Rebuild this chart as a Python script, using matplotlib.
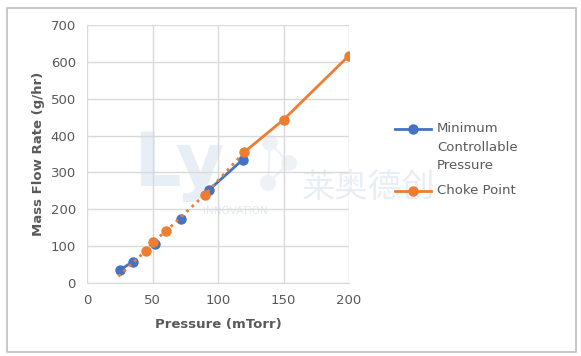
import matplotlib
matplotlib.use("Agg")
from matplotlib import pyplot as plt
from matplotlib.patches import Rectangle, Ellipse
from matplotlib.lines import Line2D

# data
min_ctrl_x = [25, 35, 52, 72, 93, 119]
min_ctrl_y = [35, 58, 107, 175, 252, 335]
# segments of the blue series that are drawn with a line
min_ctrl_line_x = [25, 35, None, 93, 119]
min_ctrl_line_y = [35, 58, None, 252, 335]

choke_x = [45, 50, 60, 90, 120, 150, 200]
choke_y = [88, 110, 140, 240, 355, 443, 617]
choke_solid_x = [120, 150, 200]
choke_solid_y = [355, 443, 617]
trend_x = [24, 45, 50, 60, 90, 120]
trend_y = [18, 88, 110, 140, 240, 355]

x_ticks = [0, 50, 100, 150, 200]
y_ticks = [0, 100, 200, 300, 400, 500, 600, 700]
legend_labels = ["Minimum\nControllable\nPressure", "Choke Point"]

blue = "#4472C4"
orange = "#ED7D31"
grey_text = "#595959"

plt.rcParams["font.family"] = ["DejaVu Sans", "Noto Sans CJK SC"]

W, H = 581, 356
fig = plt.figure(figsize=(W / 100, H / 100), dpi=100)
fig.set_facecolor("w")
ax = fig.add_axes([87 / W, 1 - 283 / H, (349 - 87) / W, (283 - 25) / H])
ax.set_zorder(2)

# outer frame
fig.patches.append(Rectangle((7 / W, 4 / H), 569 / W, 344 / H, transform=fig.transFigure,
                             fill=False, edgecolor="#BFBFBF", lw=1.2))

# faint watermark behind the chart
wm = "#E8EEF6"
fig.text(133 / W, 1 - 165 / H, "Ly", fontsize=54, fontweight="bold", color=wm,
         va="center", ha="left", zorder=-1)
fig.text(302 / W, 1 - 187 / H, "莱奥德创", fontsize=24, color=wm, va="center", ha="left",
         family=["Noto Sans CJK SC", "DejaVu Sans"], zorder=-1)
fig.text(203 / W, 1 - 211 / H, "INNOVATION", fontsize=7.5, color="#E3E9F1", va="center",
         ha="left", zorder=-1)
mol = [(270, 143), (289, 163), (268, 183)]
for (x0, y0), (x1, y1) in zip(mol, mol[1:] + mol[:1]):
    fig.add_artist(Line2D([x0 / W, x1 / W], [1 - y0 / H, 1 - y1 / H], transform=fig.transFigure,
                          color="#EEF2F7", lw=1.5, zorder=-1))
for cx, cy in mol:
    fig.patches.append(Ellipse((cx / W, 1 - cy / H), 16 / W, 16 / H, transform=fig.transFigure,
                               facecolor="#EEF2F7", edgecolor="none", zorder=-1))

ax.set_facecolor("none")
ax.plot(min_ctrl_line_x, min_ctrl_line_y, color=blue, lw=2, zorder=3)
ax.plot(min_ctrl_x, min_ctrl_y, "o", color=blue, ms=6.5, zorder=3)
ax.plot(trend_x, trend_y, color=orange, lw=2, ls=(0, (1, 1.6)), zorder=4)
ax.plot(choke_solid_x, choke_solid_y, color=orange, lw=2, zorder=4)
ax.plot(choke_x, choke_y, "o", color=orange, ms=6.5, zorder=4)

ax.set_xlim(0, 200)
ax.set_ylim(0, 700)
ax.set_xticks(x_ticks)
ax.set_yticks(y_ticks)
ax.grid(True, color="#D9D9D9", lw=1)
ax.set_axisbelow(True)
for s in ["top", "right", "left"]:
    ax.spines[s].set_visible(False)
ax.spines["bottom"].set_color("#D9D9D9")
ax.tick_params(length=0, labelsize=9.5, labelcolor=grey_text, pad=8)
ax.set_xlabel("Pressure (mTorr)", fontsize=9.5, fontweight="bold", color=grey_text, labelpad=8)
ax.set_ylabel("Mass Flow Rate (g/hr)", fontsize=9.5, fontweight="bold", color=grey_text, labelpad=4)

# legend laid out by hand: marker sits on the first text line, as in Excel
for label, col, y in zip(legend_labels, [blue, orange], [129, 191]):
    fig.add_artist(Line2D([395 / W, 431 / W], [1 - y / H] * 2, transform=fig.transFigure,
                          color=col, lw=2))
    fig.add_artist(Line2D([413 / W], [1 - y / H], transform=fig.transFigure,
                          color=col, marker="o", ms=6.5))
    fig.text(437 / W, 1 - (y - 7) / H, label, fontsize=9.5, color=grey_text,
             va="top", ha="left", linespacing=1.55)

fig.savefig("out.png", dpi=100)
